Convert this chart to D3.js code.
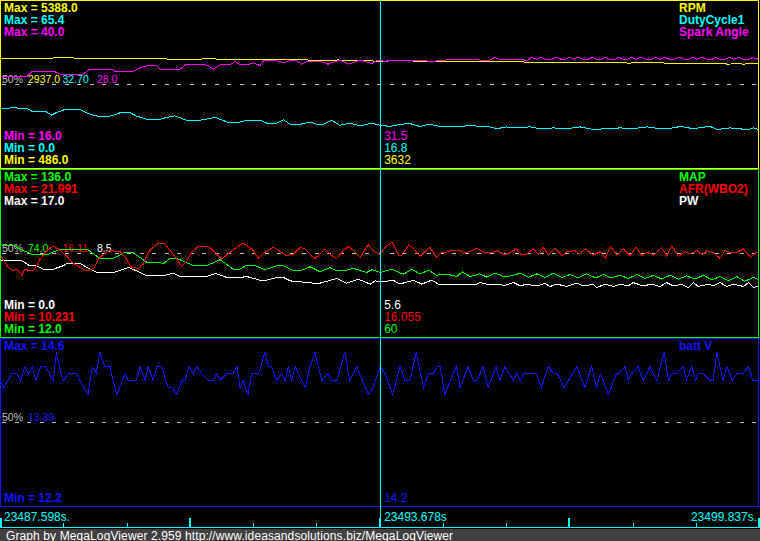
<!DOCTYPE html>
<html><head><meta charset="utf-8">
<script src="https://cdn.jsdelivr.net/npm/d3@7"></script>
<style>
html,body{margin:0;padding:0;background:#000;}
svg{display:block;}
text{font-family:"Liberation Sans",Arial,sans-serif;}
</style></head><body>
<svg id="chart" width="760" height="541"></svg>
<script>
// ================= DATA =================
const startTimeLabel = "23487.598s.";
const cursorTimeLabel = "23493.678s";
const endTimeLabel = "23499.837s.";
const timeSpan = 12.239;          // seconds visible
const cursorOffset = 6.13;        // cursor position, seconds from start
const tickOffsets = [0, 1.02, 2.04, 3.06, 4.08, 5.10, 6.12, 7.14, 8.16, 9.18, 10.20, 11.22, 12.239];
const footerText = "Graph by MegaLogViewer 2.959 http://www.ideasandsolutions.biz/MegaLogViewer";

const seriesNames  = ["RPM", "DutyCycle1", "Spark Angle", "MAP", "AFR(WBO2)", "PW", "batt V"];
const seriesMax    = [5388.0, 65.4, 40.0, 136.0, 21.991, 17.0, 14.6];
const seriesMin    = [486.0, 0.0, 16.0, 12.0, 10.231, 0.0, 12.2];
const maxLabels    = ["5388.0", "65.4", "40.0", "136.0", "21.991", "17.0", "14.6"];
const minLabels    = ["486.0", "0.0", "16.0", "12.0", "10.231", "0.0", "12.2"];
const midLabels    = ["2937.0", "32.70", "28.0", "74.0", "16.11", "8.5", "13.39"];
const cursorValues = ["3632", "16.8", "31.5", "60", "16.055", "5.6", "14.2"];
const panelSeries  = [[0, 1, 2], [3, 4, 5], [6]];

// each series: [seconds from start, value]
const rpmData = [[0,3706],[0.85,3706],[0.9,3735],[1.15,3735],[1.2,3706],[2.65,3706],[2.7,3677],[3.25,3677],[3.3,3706],[3.45,3690],[3.5,3677],[4.8,3677],[4.85,3660],[4.95,3660],[5.0,3636],[5.4,3636],[5.45,3660],[5.5,3636],[5.8,3636],[5.85,3650],[5.9,3630],[6.13,3615],[6.3,3625],[6.6,3625],[6.9,3612],[7.9,3612],[7.92,3595],[8.45,3595],[8.5,3580],[8.8,3580],[8.82,3570],[10.1,3570],[10.13,3555],[10.2,3570],[10.7,3570],[10.72,3555],[11.7,3555],[11.72,3530],[11.9,3545],[12.0,3530],[12.1,3555],[12.239,3555]];

const dutyData = [[0,23.4],[0.22,23.6],[0.43,23.4],[0.54,22.0],[0.75,22.0],[0.83,20.8],[0.91,21.8],[1.05,23.0],[1.29,23.0],[1.42,21.4],[1.61,20.1],[1.72,20.1],[1.83,20.8],[1.94,21.7],[2.10,21.7],[2.20,20.4],[2.37,19.2],[2.58,19.2],[2.69,19.9],[2.82,20.5],[3.01,18.8],[3.23,18.8],[3.47,19.9],[3.66,18.1],[3.87,18.1],[3.98,18.8],[4.19,18.8],[4.30,17.7],[4.46,17.7],[4.57,19.0],[4.68,17.2],[4.84,17.2],[5.00,18.1],[5.11,17.2],[5.21,17.2],[5.35,18.8],[5.48,16.8],[5.64,17.7],[5.81,16.6],[5.99,17.7],[6.13,16.8],[6.29,16.4],[6.45,17.2],[6.61,17.5],[6.77,16.4],[6.93,17.2],[7.10,16.4],[7.42,16.4],[7.63,16.8],[7.74,16.2],[7.90,16.2],[8.01,15.5],[8.17,16.2],[8.28,15.8],[8.55,16.2],[8.71,15.5],[8.92,15.8],[9.14,15.5],[9.35,16.2],[9.57,15.2],[9.78,15.5],[10.0,15.8],[10.21,15.5],[10.43,16.2],[10.64,15.5],[10.86,15.8],[10.97,16.4],[11.18,15.5],[11.45,16.4],[11.56,15.2],[11.77,15.8],[11.93,15.5],[12.04,15.0],[12.15,15.8],[12.239,15.2]];

const sparkData = [[0,29.1],[0.43,29.1],[0.51,29.8],[0.89,29.8],[0.97,29.5],[1.34,29.5],[1.45,30.2],[1.83,30.2],[1.85,29.9],[2.15,29.9],[2.26,30.4],[2.37,30.7],[2.53,30.7],[2.58,30.2],[2.90,30.2],[3.01,30.9],[3.28,30.9],[3.36,30.7],[3.44,30.2],[3.55,30.8],[3.71,30.8],[3.79,31.3],[3.87,30.8],[3.98,30.8],[4.09,31.1],[4.19,30.7],[4.25,31.4],[4.46,31.4],[4.57,31.1],[4.68,31.4],[4.78,31.4],[4.86,30.9],[4.95,31.3],[5.16,31.3],[5.29,30.9],[5.48,31.5],[5.62,30.9],[5.81,31.5],[5.99,31.0],[6.10,31.5],[6.21,31.3],[6.29,31.5],[6.56,31.5],[6.67,31.4],[6.77,31.5],[6.93,31.3],[7.10,31.4],[7.20,31.5],[7.26,31.6],[7.69,31.6],[7.74,31.45],[7.85,31.45],[7.90,31.5],[7.98,31.9],[8.04,31.6],[8.44,31.6],[8.49,31.3],[8.57,31.9],[8.65,31.6],[8.72,31.9],[8.80,31.6],[8.90,31.6],[8.97,31.9],[9.05,31.6],[9.12,31.6],[9.18,31.9],[9.25,31.6],[9.32,31.9],[9.40,31.6],[9.48,31.6],[9.55,31.9],[9.62,31.6],[9.70,31.6],[9.76,31.9],[9.83,31.6],[9.92,31.6],[9.98,31.9],[10.05,31.6],[10.12,31.6],[10.19,31.9],[10.26,31.6],[10.34,31.9],[10.41,31.6],[10.50,31.6],[10.57,31.9],[10.64,31.6],[10.72,31.9],[10.79,31.6],[10.88,31.6],[10.95,31.9],[11.02,31.6],[11.10,31.6],[11.16,31.9],[11.23,31.6],[11.32,31.9],[11.39,31.6],[11.48,31.6],[11.54,31.9],[11.61,31.6],[11.70,31.6],[11.76,31.9],[11.83,31.6],[11.92,31.9],[11.99,31.6],[12.08,31.6],[12.14,31.9],[12.20,31.6],[12.239,31.75]];

const mapData = [[0,80.3],[0.22,80.0],[0.32,77.3],[0.54,72.9],[0.75,72.9],[0.97,77.3],[1.40,77.3],[1.61,70.4],[1.83,70.4],[1.99,74.4],[2.15,74.4],[2.37,67.5],[2.58,67.5],[2.63,66.2],[2.74,70.4],[2.85,70.4],[3.12,65.0],[3.33,65.0],[3.55,69.4],[3.76,62.5],[3.87,62.5],[3.98,65.5],[4.09,65.5],[4.25,62.5],[4.30,62.5],[4.46,65.0],[4.57,65.0],[4.73,61.2],[4.84,61.2],[5.00,64.2],[5.16,60.5],[5.32,63.5],[5.43,61.2],[5.54,61.2],[5.70,63.0],[5.91,60.0],[6.00,62.0],[6.13,60.0],[6.32,62.5],[6.43,60.0],[6.51,58.8],[6.64,62.5],[6.77,58.8],[6.91,61.7],[7.04,58.0],[7.20,58.8],[7.37,57.0],[7.45,60.5],[7.58,57.0],[7.74,59.0],[7.85,56.5],[7.98,59.5],[8.12,57.0],[8.25,57.5],[8.39,59.5],[8.52,56.5],[8.66,59.0],[8.79,56.3],[8.92,59.5],[9.06,56.3],[9.19,58.5],[9.33,56.0],[9.46,59.0],[9.60,56.0],[9.73,58.5],[9.86,56.0],[10.0,58.0],[10.13,55.5],[10.27,58.5],[10.40,55.5],[10.54,58.0],[10.67,55.1],[10.81,58.0],[10.94,55.1],[11.07,57.5],[11.21,55.1],[11.34,58.0],[11.48,54.5],[11.61,57.0],[11.75,54.0],[11.88,57.0],[12.01,53.5],[12.15,56.5],[12.239,54.5]];

const afrData = [[0,16.07],[0.13,15.14],[0.22,14.90],[0.27,15.02],[0.35,14.60],[0.40,15.02],[0.48,14.90],[0.54,14.90],[0.65,15.72],[0.75,16.31],[0.86,16.62],[0.94,16.43],[1.08,15.91],[1.16,15.49],[1.29,15.14],[1.40,14.90],[1.51,15.07],[1.59,15.72],[1.67,16.07],[1.77,16.31],[1.94,16.25],[2.04,15.72],[2.12,15.14],[2.23,15.07],[2.31,15.37],[2.39,16.19],[2.53,16.78],[2.66,16.78],[2.77,16.19],[2.85,15.72],[2.93,15.21],[3.01,15.55],[3.09,16.19],[3.20,16.62],[3.36,16.62],[3.47,16.19],[3.57,15.72],[3.71,16.19],[3.82,16.55],[3.92,16.85],[4.06,16.43],[4.17,15.77],[4.27,16.19],[4.41,16.55],[4.54,16.19],[4.62,15.96],[4.73,16.07],[4.84,16.55],[4.92,16.43],[5.03,15.91],[5.08,15.77],[5.19,16.19],[5.24,16.43],[5.35,15.96],[5.43,15.77],[5.54,16.31],[5.62,16.62],[5.70,16.31],[5.81,15.84],[5.89,16.43],[5.94,16.71],[6.05,16.19],[6.13,16.055],[6.21,16.55],[6.32,16.90],[6.43,16.00],[6.48,16.00],[6.59,16.71],[6.67,16.48],[6.77,15.91],[6.93,16.55],[7.04,15.84],[7.12,16.19],[7.20,16.19],[7.26,16.31],[7.42,16.31],[7.47,16.14],[7.58,16.24],[7.69,16.48],[7.80,16.19],[7.90,16.14],[8.01,16.31],[8.12,16.07],[8.17,16.07],[8.33,16.43],[8.41,16.00],[8.49,16.07],[8.60,16.43],[8.68,16.07],[8.76,16.55],[8.84,16.00],[8.95,16.48],[9.06,15.96],[9.14,16.24],[9.27,16.31],[9.35,16.07],[9.44,16.43],[9.57,16.00],[9.68,16.24],[9.76,15.77],[9.84,16.62],[9.95,16.00],[10.05,16.43],[10.16,15.96],[10.26,16.55],[10.35,15.96],[10.43,16.19],[10.54,16.00],[10.67,16.55],[10.75,15.91],[10.83,16.67],[10.94,15.91],[11.05,16.24],[11.13,16.07],[11.24,16.31],[11.32,16.00],[11.40,16.31],[11.51,16.14],[11.61,15.77],[11.69,16.31],[11.77,16.19],[11.88,16.19],[11.99,16.43],[12.10,15.84],[12.20,16.19],[12.239,16.1]];

const pwData = [[0,7.77],[0.35,7.77],[0.48,7.26],[0.59,7.26],[0.70,6.92],[0.86,6.92],[1.02,7.26],[1.08,7.50],[1.29,7.50],[1.45,6.92],[1.56,6.58],[1.83,6.58],[1.99,6.92],[2.07,7.09],[2.20,6.75],[2.37,6.24],[2.63,6.24],[2.80,6.51],[2.90,6.17],[3.23,6.17],[3.33,6.17],[3.47,6.48],[3.66,6.07],[3.87,6.07],[3.98,6.17],[4.19,5.80],[4.30,5.80],[4.46,6.07],[4.57,6.07],[4.68,5.73],[5.05,5.50],[5.16,5.50],[5.43,5.97],[5.59,5.50],[5.78,5.90],[5.97,5.40],[6.05,5.73],[6.13,5.60],[6.34,5.80],[6.45,5.40],[6.53,5.56],[6.67,5.80],[6.80,5.40],[6.96,5.80],[7.07,5.40],[7.69,5.40],[7.74,5.56],[7.85,5.40],[8.06,5.40],[8.12,5.22],[8.28,5.56],[8.39,5.22],[8.49,5.40],[8.65,5.22],[8.79,5.46],[8.87,5.16],[8.98,5.40],[9.14,5.16],[9.30,5.50],[9.41,5.22],[9.57,5.40],[9.62,5.06],[9.76,5.40],[9.89,5.16],[10.0,5.40],[10.13,5.22],[10.21,5.56],[10.37,5.22],[10.51,5.40],[10.64,5.16],[10.75,5.56],[10.86,5.22],[10.99,5.40],[11.10,5.06],[11.18,5.56],[11.26,5.16],[11.42,5.40],[11.50,5.22],[11.61,5.56],[11.72,5.16],[11.83,5.40],[11.99,5.16],[12.07,5.56],[12.15,5.06],[12.239,5.22]];

const battData = [[0,14.0],[0.06,13.9],[0.19,14.1],[0.27,14.1],[0.33,14.0],[0.40,14.2],[0.46,14.1],[0.52,14.2],[0.58,14.0],[0.66,14.2],[0.73,14.2],[0.86,14.0],[0.91,14.4],[0.97,14.15],[1.02,14.0],[1.10,14.1],[1.24,14.1],[1.29,14.0],[1.42,13.8],[1.49,14.2],[1.55,14.1],[1.61,14.4],[1.69,14.2],[1.77,14.2],[1.88,13.8],[2.02,14.1],[2.07,14.0],[2.20,14.0],[2.26,14.2],[2.34,14.0],[2.39,14.2],[2.47,14.0],[2.53,14.2],[2.61,14.2],[2.71,13.9],[2.77,13.9],[2.85,13.8],[2.93,14.0],[2.98,14.0],[3.05,14.2],[3.12,14.1],[3.17,14.2],[3.25,14.1],[3.36,14.0],[3.44,14.0],[3.49,14.1],[3.55,14.0],[3.66,14.1],[3.76,14.1],[3.82,14.2],[3.87,13.9],[3.92,14.0],[4.00,13.8],[4.06,14.1],[4.17,14.1],[4.27,14.4],[4.33,14.2],[4.38,14.2],[4.46,14.0],[4.54,14.1],[4.60,14.0],[4.65,14.2],[4.70,14.0],[4.76,14.2],[4.81,14.1],[4.92,13.9],[5.00,14.2],[5.08,14.4],[5.19,14.0],[5.29,14.1],[5.35,14.0],[5.43,14.0],[5.56,14.4],[5.64,14.0],[5.75,14.2],[5.94,13.8],[6.02,13.9],[6.13,14.2],[6.21,14.1],[6.33,13.8],[6.45,14.2],[6.53,14.0],[6.61,14.0],[6.71,14.4],[6.83,13.9],[6.91,14.1],[6.99,14.1],[7.05,14.2],[7.10,14.2],[7.17,13.8],[7.36,14.2],[7.42,13.9],[7.55,14.2],[7.63,14.0],[7.69,14.0],[7.79,14.2],[7.87,13.9],[8.00,14.2],[8.06,14.0],[8.14,14.2],[8.28,14.0],[8.33,14.1],[8.39,14.0],[8.44,14.1],[8.65,14.1],[8.73,13.9],[8.84,14.2],[8.92,14.1],[8.98,14.1],[9.10,13.9],[9.30,14.2],[9.43,13.9],[9.54,14.2],[9.62,13.9],[9.68,14.1],[9.81,13.8],[9.94,14.1],[9.98,14.1],[10.08,14.2],[10.13,14.0],[10.19,14.1],[10.29,14.2],[10.37,14.0],[10.43,14.1],[10.48,14.2],[10.59,14.0],[10.71,14.4],[10.78,14.0],[10.83,14.1],[10.91,14.1],[11.02,14.2],[11.07,14.0],[11.15,14.2],[11.22,14.0],[11.26,14.1],[11.34,14.1],[11.45,14.0],[11.50,14.0],[11.56,14.4],[11.66,14.0],[11.72,14.2],[11.81,14.0],[11.88,14.1],[11.98,14.1],[12.07,14.2],[12.14,14.0],[12.239,14.0]];

const seriesData = [rpmData, dutyData, sparkData, mapData, afrData, pwData, battData];

// ================= STYLE / LAYOUT =================
const seriesColors = ["#ffff00", "#00ffff", "#ff00ff", "#00ff00", "#ff0000", "#ffffff", "#1414ff"];
const panelColors = ["#ffff00", "#00ff00", "#1414ff"];
const panelTops = [0, 169, 338];
const panelH = 168;
const W = 760, H = 541;
const drawOrder = [[0, 1, 2], [3, 5, 4], [6]];

const svg = d3.select("#chart");
svg.append("rect").attr("width", W).attr("height", H).attr("fill", "#000");

const x = d3.scaleLinear().domain([0, timeSpan]).range([0, 759]);

panelSeries.forEach((ids, p) => {
  const top = panelTops[p], bottom = top + panelH, mid = (top + bottom) / 2;
  const g = svg.append("g");

  // 50% labels
  g.append("text").attr("x", 2).attr("y", mid - 1).attr("fill", "#c0c0c0")
    .attr("font-size", "10.5px").text("50%");
  ids.forEach((s, j) => {
    g.append("text").attr("x", 28 + 34.5 * j).attr("y", mid - 1)
      .attr("fill", seriesColors[s]).attr("font-size", "10.5px").text(midLabels[s]);
  });
  // 50% dashed line
  g.append("line").attr("x1", 2).attr("x2", 758).attr("y1", mid + 0.5).attr("y2", mid + 0.5)
    .attr("stroke", "#c0c0c0").attr("stroke-width", 1).attr("stroke-dasharray", "4,8.5")
    .attr("shape-rendering", "crispEdges");

  // series
  drawOrder[p].forEach(s => {
    const y = d3.scaleLinear().domain([seriesMin[s], seriesMax[s]]).range([bottom + 0.5, top + 0.5]);
    const line = d3.line().x(d => x(d[0])).y(d => y(d[1]));
    g.append("path").datum(seriesData[s]).attr("d", line)
      .attr("fill", "none").attr("stroke", seriesColors[s]).attr("stroke-width", 1)
      .attr("shape-rendering", "crispEdges");
  });

  // Max labels + legend; Min labels and cursor values bottom-up
  ids.forEach((s, j) => {
    g.append("text").attr("x", 4).attr("y", top + 12 + 12 * j)
      .attr("fill", seriesColors[s]).attr("font-size", "12px").attr("font-weight", "bold")
      .text("Max = " + maxLabels[s]);
    g.append("text").attr("x", 679).attr("y", top + 12 + 12 * j)
      .attr("fill", seriesColors[s]).attr("font-size", "12px").attr("font-weight", "bold")
      .text(seriesNames[s]);
    g.append("text").attr("x", 4).attr("y", bottom - 4 - 12 * j)
      .attr("fill", seriesColors[s]).attr("font-size", "12px").attr("font-weight", "bold")
      .text("Min = " + minLabels[s]);
    g.append("text").attr("x", x(cursorOffset) + 4).attr("y", bottom - 4 - 12 * j)
      .attr("fill", seriesColors[s]).attr("font-size", "12px")
      .text(cursorValues[s]);
  });

  // border
  g.append("rect").attr("x", 0.5).attr("y", top + 0.5).attr("width", 758).attr("height", panelH)
    .attr("fill", "none").attr("stroke", panelColors[p]).attr("stroke-width", 1)
    .attr("shape-rendering", "crispEdges");
});

// time axis
const axisY = 527.5;
svg.append("line").attr("x1", 0).attr("x2", 758).attr("y1", axisY).attr("y2", axisY)
  .attr("stroke", "#00ffff").attr("stroke-width", 1).attr("shape-rendering", "crispEdges");
tickOffsets.forEach((t, i) => {
  const major = i % 3 === 0;
  const px = Math.round(x(t));
  if (major) {
    svg.append("rect").attr("x", Math.max(0, Math.min(758, px - 1))).attr("y", 518)
      .attr("width", 2).attr("height", 10).attr("fill", "#00ffff");
  } else {
    svg.append("rect").attr("x", px).attr("y", 523).attr("width", 1).attr("height", 5)
      .attr("fill", "#00ffff");
  }
});
svg.append("text").attr("x", 4).attr("y", 521).attr("fill", "#00ffff")
  .attr("font-size", "12px").text(startTimeLabel);
svg.append("text").attr("x", x(cursorOffset) + 4).attr("y", 521).attr("fill", "#00ffff")
  .attr("font-size", "12px").text(cursorTimeLabel);
svg.append("text").attr("x", 757).attr("y", 521).attr("fill", "#00ffff")
  .attr("font-size", "12px").attr("text-anchor", "end").text(endTimeLabel);

// cursor
const cx = Math.floor(x(cursorOffset)) + 0.5;
svg.append("line").attr("x1", cx).attr("x2", cx).attr("y1", 0).attr("y2", 528)
  .attr("stroke", "#00ffff").attr("stroke-width", 1).attr("shape-rendering", "crispEdges");

// footer
svg.append("rect").attr("x", 0).attr("y", 529).attr("width", W).attr("height", 12).attr("fill", "#404040");
svg.append("text").attr("x", 6).attr("y", 539.5).attr("fill", "#ffffff")
  .attr("font-size", "12px").attr("textLength", 447).attr("lengthAdjust", "spacing")
  .text(footerText);
</script>
</body></html>
